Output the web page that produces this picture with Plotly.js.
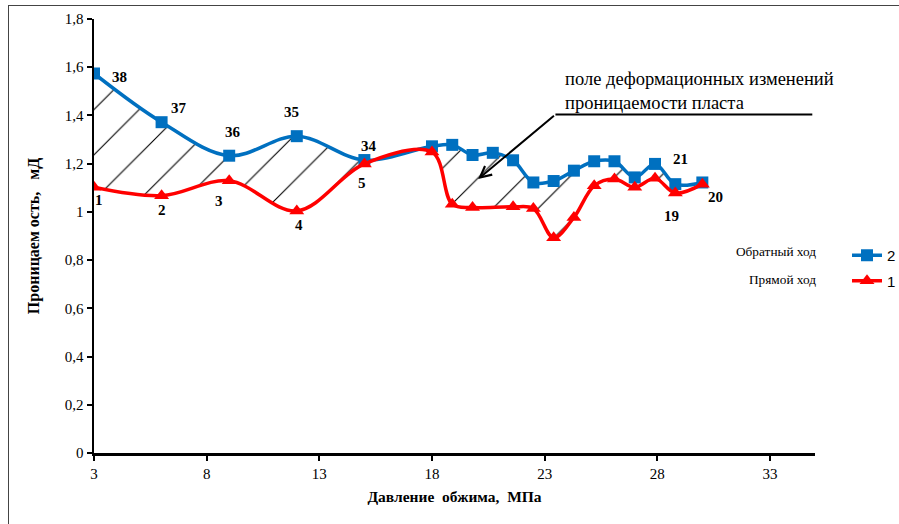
<!DOCTYPE html>
<html>
<head>
<meta charset="utf-8">
<script src="https://cdn.plot.ly/plotly-3.0.1.min.js"></script>
<style>html,body{margin:0;padding:0;background:#fff;}</style>
</head>
<body>
<div style="position:relative;width:899px;height:524px;overflow:hidden;">
<div id="chart" style="width:899px;height:524px;"></div>
<div style="position:absolute;left:8px;top:5px;width:900px;height:600px;border-left:1px solid #444;border-top:1px solid #444;pointer-events:none;"></div>
</div>
<script>
// Обратный ход (series "2")
const backX = [3, 6, 9, 12, 15, 18, 18.9, 19.8, 20.7, 21.6, 22.5, 23.4, 24.3, 25.2, 26.1, 27, 27.9, 28.8, 30];
const backY = [1.574, 1.372, 1.233, 1.314, 1.215, 1.272, 1.278, 1.236, 1.245, 1.214, 1.122, 1.128, 1.171, 1.21, 1.21, 1.143, 1.199, 1.115, 1.122];
// Прямой ход (series "1")
const fwdX = [3, 6, 9, 12, 15, 18, 18.9, 19.8, 21.6, 22.5, 23.4, 24.3, 25.2, 26.1, 27, 27.9, 28.8, 30];
const fwdY = [1.102, 1.067, 1.129, 1.004, 1.199, 1.248, 1.032, 1.018, 1.021, 1.014, 0.893, 0.977, 1.108, 1.136, 1.102, 1.139, 1.078, 1.115];

// point labels: index into the series and the label text
const backLabelIdx = [0, 1, 2, 3, 4, 17];
const backLabelTxt = ['38', '37', '36', '35', '34', '21'];
const fwdLabelIdx = [0, 1, 2, 3, 4, 16, 17];
const fwdLabelTxt = ['1', '2', '3', '4', '5', '19', '20'];

const xTicks = [3, 8, 13, 18, 23, 28, 33];

// label pixel offsets (styling)
const backOff = [[25, -4], [17, 14], [4, 24], [-5, 24], [5, 14], [5, 25]];
const fwdOff = [[5, -13], [0, -14], [-10, -20], [2, -14], [-2, -19], [-4, -23], [13, -13]];

const serif = '"Liberation Serif", serif';

const traces = [
  {
    x: backX, y: backY, name: '2', type: 'scatter', mode: 'lines+markers',
    legendgroup: 'b',
    line: {color: '#0070C0', width: 3.5, shape: 'spline', smoothing: 1},
    marker: {symbol: 'square', size: 12, color: '#0070C0'}
  },
  {
    x: fwdX, y: fwdY, name: '1', type: 'scatter', mode: 'lines+markers',
    legendgroup: 'r',
    fill: 'tonexty',
    fillcolor: 'rgba(0,0,0,0)',
    fillpattern: {shape: '/', size: 32, solidity: 0.035, fgcolor: '#000000', bgcolor: 'rgba(0,0,0,0)'},
    line: {color: '#FF0000', width: 3.5, shape: 'spline', smoothing: 1},
    marker: {symbol: 'triangle-up', size: 13, color: '#FF0000'}
  }
];

const annotations = [];
backLabelIdx.forEach((idx, k) => {
  annotations.push({x: backX[idx], y: backY[idx], xref: 'x', yref: 'y', text: '<b>' + backLabelTxt[k] + '</b>', showarrow: false,
    xshift: backOff[k][0], yshift: backOff[k][1], font: {family: serif, size: 15, color: '#000'}});
});
fwdLabelIdx.forEach((idx, k) => {
  annotations.push({x: fwdX[idx], y: fwdY[idx], xref: 'x', yref: 'y', text: '<b>' + fwdLabelTxt[k] + '</b>', showarrow: false,
    xshift: fwdOff[k][0], yshift: fwdOff[k][1], font: {family: serif, size: 15, color: '#000'}});
});
// descriptive text
annotations.push({x: 23.8, y: 1.60, xref: 'x', yref: 'y', xanchor: 'left', yanchor: 'top', align: 'left',
  text: 'поле деформационных изменений<br>проницаемости пласта', showarrow: false,
  font: {family: serif, size: 18.5, color: '#000'}});
// arrow
annotations.push({x: 20.05, y: 1.136, xref: 'x', yref: 'y', ax: 23.48, ay: 1.404, axref: 'x', ayref: 'y',
  text: '', showarrow: true, arrowhead: 5, arrowsize: 1.1, arrowwidth: 2, arrowcolor: '#000'});
// legend descriptors
annotations.push({x: 818, y: 252, xref: 'paper', yref: 'paper', text: 'Обратный ход', showarrow: false});
annotations.push({x: 818, y: 279, xref: 'paper', yref: 'paper', text: 'Прямой ход', showarrow: false});

// convert pixel-positioned legend descriptors into paper coords
const L = 94, R = 84, T = 19, B = 71, W = 899, H = 524;
const pw = W - L - R, ph = H - T - B;
annotations.slice(-2).forEach(a => {
  a.x = (a.x - L) / pw; a.y = 1 - (a.y - T) / ph;
  a.xanchor = 'right'; a.yanchor = 'middle';
  a.font = {family: serif, size: 13.3, color: '#000'};
});

const layout = {
  width: W, height: H,
  margin: {l: L, r: R, t: T, b: B, autoexpand: false},
  paper_bgcolor: 'rgba(0,0,0,0)', plot_bgcolor: 'rgba(0,0,0,0)',
  separators: ',.',
  font: {family: serif, color: '#000'},
  showlegend: true,
  legend: {x: (847 - L) / pw, y: 1 - (239 - T) / ph, xanchor: 'left', yanchor: 'top',
    traceorder: 'grouped', tracegroupgap: 3, bgcolor: 'rgba(0,0,0,0)',
    font: {family: '"Liberation Sans", sans-serif', size: 15, color: '#000'}},
  xaxis: {
    range: [3, 35], tickvals: xTicks, ticktext: xTicks.map(String),
    showline: true, linecolor: '#000', linewidth: 2.5, mirror: false,
    ticks: 'outside', ticklen: 5, tickwidth: 2, tickcolor: '#000',
    showgrid: false, zeroline: false,
    tickfont: {family: serif, size: 15, color: '#000'},
    title: {text: '<b>Давление\u00A0 обжима,\u00A0 МПа</b>', standoff: 11,
      font: {family: serif, size: 15.5, color: '#000'}}
  },
  yaxis: {
    range: [0, 1.8], dtick: 0.2, tick0: 0,
    showline: true, linecolor: '#000', linewidth: 2.5,
    ticks: 'outside', ticklen: 5, tickwidth: 2, tickcolor: '#000',
    showgrid: false, zeroline: false,
    tickfont: {family: serif, size: 15, color: '#000'},
    title: {text: '<b>Проницаем ость,\u00A0\u00A0 мД</b>', standoff: 21,
      font: {family: serif, size: 16, color: '#000'}}
  },
  shapes: [
    {type: 'line', xref: 'x', yref: 'y', x0: 23.48, x1: 34.88, y0: 1.404, y1: 1.404,
      line: {color: '#000', width: 2}}
  ],
  annotations: annotations
};

Plotly.newPlot('chart', traces, layout, {displayModeBar: false, staticPlot: true});
</script>
</body>
</html>
